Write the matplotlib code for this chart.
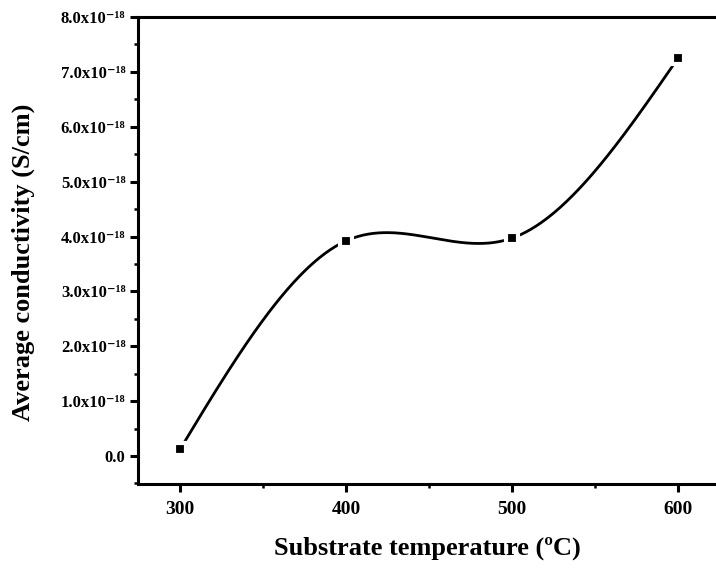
import numpy as np
import matplotlib
matplotlib.use("Agg")
from matplotlib import pyplot as plt
from matplotlib.ticker import MultipleLocator, FuncFormatter

# measured data
temperature = [300, 400, 500, 600]                      # substrate temperature (C)
conductivity = [0.12e-18, 3.92e-18, 3.97e-18, 7.25e-18]  # average conductivity (S/cm)

x_ticks = [300, 400, 500, 600]


def natural_spline(x, y, xs):
    # natural cubic spline through the points, evaluated at xs
    x = np.asarray(x, float)
    y = np.asarray(y, float)
    n = len(x)
    h = np.diff(x)
    A = np.zeros((n, n))
    b = np.zeros(n)
    A[0, 0] = A[-1, -1] = 1
    for i in range(1, n - 1):
        A[i, i - 1] = h[i - 1]
        A[i, i] = 2 * (h[i - 1] + h[i])
        A[i, i + 1] = h[i]
        b[i] = 6 * ((y[i + 1] - y[i]) / h[i] - (y[i] - y[i - 1]) / h[i - 1])
    M = np.linalg.solve(A, b)
    k = np.clip(np.searchsorted(x, xs) - 1, 0, n - 2)
    x0, x1, hk = x[k], x[k + 1], h[k]
    return (M[k] * (x1 - xs) ** 3 / (6 * hk) + M[k + 1] * (xs - x0) ** 3 / (6 * hk)
            + (y[k] / hk - M[k] * hk / 6) * (x1 - xs)
            + (y[k + 1] / hk - M[k + 1] * hk / 6) * (xs - x0))


plt.rcParams["font.family"] = ["Liberation Serif", "DejaVu Serif"]
plt.rcParams["font.weight"] = "bold"

fig = plt.figure(figsize=(7.16, 5.69), dpi=100)
ax = fig.add_axes([0.1927, 0.1494, 0.8073, 0.8207])

xs = np.linspace(temperature[0], temperature[-1], 400)
ax.plot(xs, natural_spline(temperature, conductivity, xs), color="k", lw=2, zorder=2)
# white rim around the symbols leaves a small gap in the curve
ax.plot(temperature, conductivity, ls="none", marker="s", ms=9, mfc="k",
        mec="white", mew=3, zorder=3)

ax.set_xlim(274.7, 622.9)
ax.set_ylim(-0.51e-18, 8.0e-18)
ax.set_xticks(x_ticks)
ax.xaxis.set_minor_locator(MultipleLocator(50))
ax.yaxis.set_major_locator(MultipleLocator(1e-18))
ax.yaxis.set_minor_locator(MultipleLocator(0.5e-18))


def fmt_y(v, pos):
    if abs(v) < 1e-22:
        return "0.0"
    return "%.1fx10\u207b\u00b9\u2078" % (v / 1e-18)


ax.yaxis.set_major_formatter(FuncFormatter(fmt_y))

for side in ["left", "bottom", "top"]:
    ax.spines[side].set_linewidth(2.2)
ax.spines["right"].set_visible(False)

ax.tick_params(axis="both", which="major", direction="out", length=6, width=2.2)
ax.tick_params(axis="both", which="minor", direction="out", length=3, width=1.8)
ax.tick_params(axis="x", which="major", labelsize=14, pad=6)
ax.tick_params(axis="y", which="major", labelsize=12, pad=3)

ax.set_xlabel("Substrate temperature (ºC)", fontsize=19, fontweight="bold")
ax.set_ylabel("Average conductivity (S/cm)", fontsize=19, fontweight="bold")
ax.xaxis.set_label_coords(0.5, -0.113)
ax.yaxis.set_label_coords(-0.178, 0.475)

fig.savefig("out.png", dpi=100)
